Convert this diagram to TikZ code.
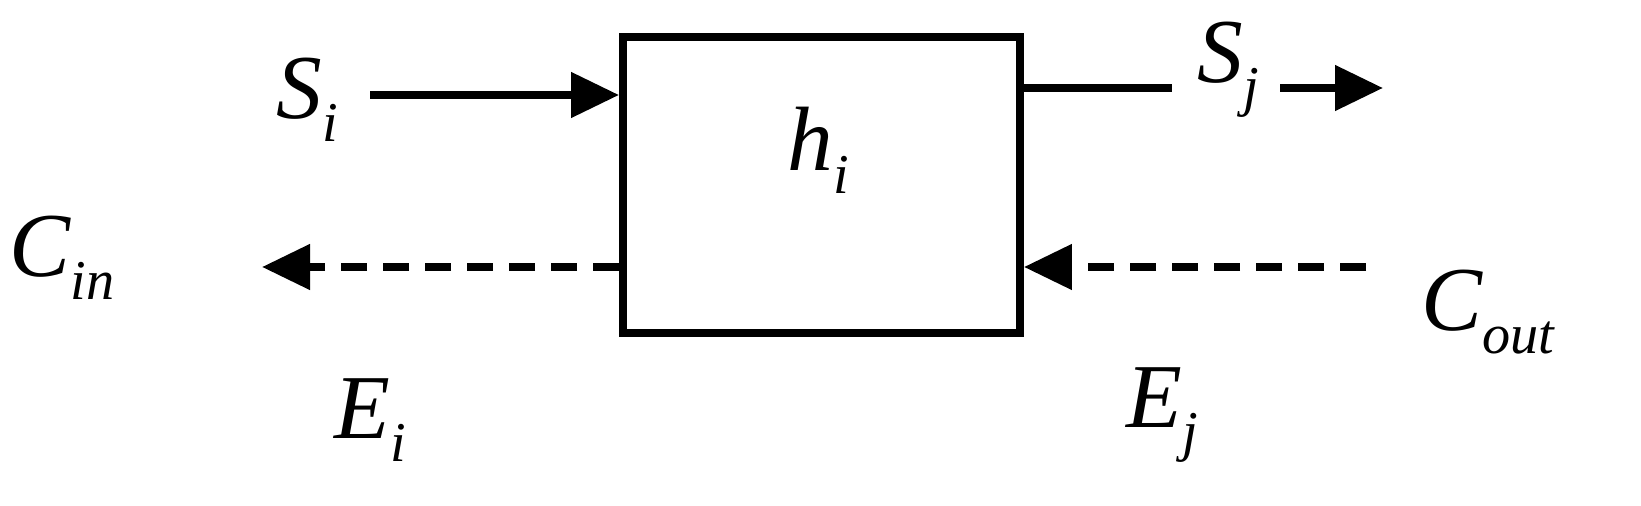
\documentclass[tikz,border=0pt]{standalone}
\usepackage{fontspec}
\setmainfont{Liberation Serif}[ItalicFont={Liberation Serif Italic}]
\usetikzlibrary{arrows.meta}
\newcommand{\lab}[2]{{\itshape #1}\raisebox{-0.25em}{\fontsize{32}{32}\selectfont\itshape #2}}
\begin{document}
\begin{tikzpicture}[x=0.02cm,y=-0.02cm,
  ln/.style={line width=4.5pt},
  tip/.style={-{Triangle[length=48*0.02cm,width=44*0.02cm]}},
  dsh/.style={dash pattern=on 26*0.02cm off 16*0.02cm},
  txt/.style={font=\fontsize{52}{52}\selectfont,inner sep=0pt}]
\useasboundingbox (0,0) rectangle (1641,506);
\node[draw,ln,minimum width=397*0.02cm,minimum height=296*0.02cm,inner sep=0pt] (box) at (821.5,185) {};
\node[txt] (h) at (818,150) {\lab{h}{i}};
\node[txt] (si) at (307,100) {\lab{S}{i}};
\coordinate (sis) at (370,95);
\draw[ln,tip] (sis) -- (box.west |- sis);
\coordinate (sjl) at (1172,88);
\draw[ln] (box.east |- sjl) -- (sjl);
\node[txt] (sj) at (1228,70) {\lab{S}{j}};
\coordinate (sja) at (1280,88); \coordinate (sjb) at (1383,88);
\draw[ln,tip] (sja) -- (sjb);
\coordinate (co) at (1366,267);
\draw[ln,dsh,tip] (co) -- (box.east |- co);
\coordinate (cl) at (262,267);
\draw[ln,dsh,tip] (box.west |- cl) -- (cl);
\node[txt] (cin) at (62,258) {\lab{C}{in}};
\node[txt] (cout) at (1488,312) {\lab{C}{out}};
\node[txt] (ei) at (370,420) {\lab{E}{i}};
\node[txt] (ej) at (1162,415) {\lab{E}{j}};
\end{tikzpicture}
\end{document}
